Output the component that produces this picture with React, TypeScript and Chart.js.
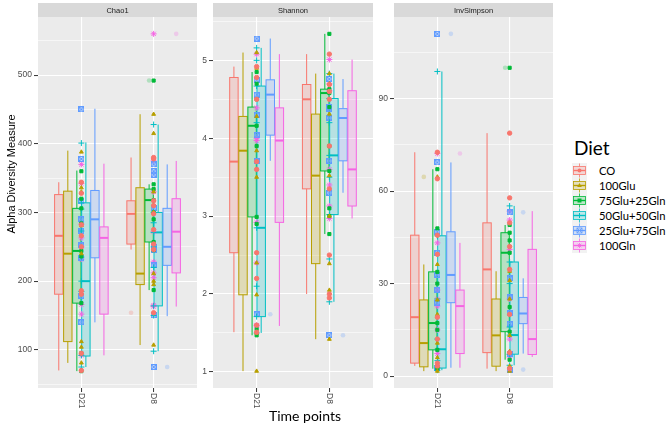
import React, { useEffect, useRef } from 'react';
import { Chart, registerables } from 'chart.js';
Chart.register(...registerables);

const DIETS = ['CO', '100Glu', '75Glu+25Gln', '50Glu+50Gln', '25Glu+75Gln', '100Gln'];
const COLORS = ['#F8766D', '#B79F00', '#00BA38', '#00BFC4', '#619CFF', '#F564E3'];
const TIMES = ['D21', 'D8'];

// box stats: [lower whisker, Q1, median, Q3, upper whisker], one row per diet
const CHAO1_D21_BOX = [
  [70, 181, 266, 326, 344],
  [81, 112, 240, 331, 390],
  [69, 168, 244, 306, 361],
  [75, 91, 200, 314, 402],
  [140, 234, 290, 332, 451],
  [92, 152, 263, 279, 371],
];
const CHAO1_D8_BOX = [
  [246, 254, 298, 317, 380],
  [107, 195, 211, 336, 443],
  [187, 257, 318, 334, 341],
  [98, 164, 271, 300, 428],
  [149, 223, 250, 306, 370],
  [163, 212, 272, 320, 375],
];
const CHAO1_D21_OUT = [[], [], [], [], [], []];
const CHAO1_D8_OUT = [[154], [], [492], [], [75], [560]];
const CHAO1_D21_PTS = [
  [344, 328, 282, 266, 250, 186, 181, 95, 70],
  [388, 336, 330, 281, 240, 186, 112, 104, 81],
  [360, 320, 306, 284, 244, 236, 168, 95, 69],
  [401, 314, 305, 273, 235, 200, 185, 92, 75],
  [450, 378, 316, 290, 273, 252, 234, 178, 140],
  [370, 342, 283, 263, 250, 232, 166, 152, 92],
];
const CHAO1_D8_PTS = [
  [380, 378, 317, 310, 298, 275, 254, 246, 154],
  [443, 415, 330, 300, 211, 200, 195, 107],
  [492, 341, 334, 318, 300, 290, 257, 245, 187],
  [428, 300, 285, 271, 250, 220, 164, 150, 98],
  [370, 360, 355, 306, 250, 245, 223, 150, 75],
  [560, 375, 330, 272, 228, 212, 205, 165, 163],
];
const CHAO1_MAJOR = [100, 200, 300, 400, 500];
const CHAO1_MINOR = [50, 150, 250, 350, 450, 550];

const SHANNON_D21_BOX = [
  [1.51, 2.53, 3.7, 4.78, 4.92],
  [1.01, 1.99, 3.84, 4.28, 5.1],
  [1.47, 2.99, 4.16, 4.4, 4.85],
  [1.5, 1.71, 2.85, 4.67, 5.16],
  [3.71, 4.04, 4.56, 4.75, 5.28],
  [1.59, 2.92, 3.97, 4.39, 5.08],
];
const SHANNON_D8_BOX = [
  [2.0, 3.35, 4.5, 4.69, 5.08],
  [1.42, 2.39, 3.52, 4.31, 4.83],
  [2.77, 3.58, 4.58, 4.63, 5.34],
  [1.9, 3.02, 3.78, 4.51, 4.83],
  [3.3, 3.71, 4.26, 4.38, 4.76],
  [2.97, 3.13, 3.6, 4.61, 5.01],
];
const SHANNON_D21_OUT = [[], [], [], [], [1.74], []];
const SHANNON_D8_OUT = [[], [], [], [], [1.47], []];
const SHANNON_D21_PTS = [
  [4.92, 4.78, 4.5, 3.7, 3.6, 2.53, 2.2, 1.6, 1.51],
  [5.1, 4.9, 4.28, 3.84, 3.5, 2.4, 1.99, 1.5, 1.01],
  [4.85, 4.7, 4.5, 4.16, 3.9, 2.99, 2.9, 1.55, 1.47],
  [5.16, 5.0, 4.67, 4.2, 2.85, 2.1, 1.71, 1.5],
  [5.28, 4.75, 4.56, 4.3, 4.04, 3.71, 1.74],
  [5.08, 4.39, 4.0, 3.97, 2.92, 2.4, 1.6, 1.59],
];
const SHANNON_D8_PTS = [
  [5.08, 4.69, 4.6, 4.5, 3.9, 3.35, 2.5, 2.0, 1.95],
  [4.83, 4.7, 4.31, 3.52, 3.0, 2.39, 2.05, 1.42],
  [5.34, 4.63, 4.58, 4.4, 3.9, 3.58, 3.1, 3.0, 2.77],
  [4.83, 4.51, 4.2, 3.78, 3.5, 3.02, 2.45, 1.9],
  [4.76, 4.4, 4.38, 4.26, 3.71, 3.3, 1.47],
  [5.01, 4.7, 4.61, 3.6, 3.4, 3.13, 2.97],
];
const SHANNON_MAJOR = [1, 2, 3, 4, 5];
const SHANNON_MINOR = [1.5, 2.5, 3.5, 4.5, 5.5];

const INVS_D21_BOX = [
  [3.3, 4.2, 19.1, 45.7, 72.6],
  [1.6, 3.0, 10.7, 24.7, 36.2],
  [2.4, 8.5, 17.2, 33.8, 67.1],
  [1.9, 2.6, 8.7, 45.5, 98.8],
  [2.7, 23.8, 32.8, 46.8, 69.3],
  [2.7, 7.3, 22.7, 27.9, 43.2],
];
const INVS_D8_BOX = [
  [2.4, 7.6, 34.6, 49.7, 78.8],
  [1.6, 3.2, 13.2, 25.0, 34.0],
  [5.3, 14.4, 40.0, 46.5, 49.0],
  [3.5, 7.1, 13.3, 37.0, 55.2],
  [7.3, 17.0, 20.3, 25.5, 31.7],
  [6.2, 7.0, 12.0, 41.1, 53.5],
];
const INVS_D21_OUT = [[], [64.6], [], [], [111], [72.2]];
const INVS_D8_OUT = [[], [], [100], [], [53.1, 2.1], []];
const INVS_D21_PTS = [
  [72.6, 64, 45.7, 39.5, 19.1, 12, 4.2, 3.3],
  [64.6, 36.2, 24.7, 20, 10.7, 6, 3.0, 1.6],
  [67.1, 47.9, 33.8, 30, 17.2, 15, 8.5, 2.4],
  [98.8, 45.5, 25, 12, 8.7, 5, 2.6, 1.9],
  [111, 69.3, 46.8, 40, 32.8, 28, 23.8, 2.7],
  [72.2, 43.2, 27.9, 25, 22.7, 15, 7.3, 2.7],
];
const INVS_D8_PTS = [
  [78.8, 57.8, 49.7, 42, 34.6, 20, 7.6, 2.4],
  [34.0, 31, 25.0, 13.2, 8, 3.2, 1.6],
  [100, 49, 46.5, 44, 40, 22.4, 14.4, 5.3],
  [55.2, 37, 30, 15.9, 13.3, 7.1, 3.5],
  [53.1, 31.7, 25.5, 20.3, 17, 7.3, 2.1],
  [53.5, 50.6, 41.1, 25, 12.0, 7.0, 6.2],
];
const INVS_MAJOR = [0, 30, 60, 90];
const INVS_MINOR = [15, 45, 75, 105];

const FONT = '"Liberation Sans", Arial, sans-serif';
const FONT2 = 'Lato, "Open Sans", sans-serif';

function rgba(hex: string, a: number) {
  const n = parseInt(hex.slice(1), 16);
  return `rgba(${(n >> 16) & 255},${(n >> 8) & 255},${n & 255},${a})`;
}

function makeBoxCross(color: string) {
  const c = document.createElement('canvas');
  c.width = 6;
  c.height = 6;
  const g = c.getContext('2d')!;
  g.strokeStyle = color;
  g.lineWidth = 1;
  g.fillStyle = rgba(color, 0.35);
  g.fillRect(0, 0, 6, 6);
  g.strokeRect(0.5, 0.5, 5, 5);
  g.beginPath();
  g.moveTo(0.5, 0.5);
  g.lineTo(5.5, 5.5);
  g.moveTo(5.5, 0.5);
  g.lineTo(0.5, 5.5);
  g.stroke();
  return c;
}

const FACETS = [
  {
    name: 'Chao1', left: 0, width: 202, axisW: 38, padRight: 1,
    boxes: [CHAO1_D21_BOX, CHAO1_D8_BOX], out: [CHAO1_D21_OUT, CHAO1_D8_OUT],
    pts: [CHAO1_D21_PTS, CHAO1_D8_PTS], major: CHAO1_MAJOR, minor: CHAO1_MINOR,
  },
  {
    name: 'Shannon', left: 200, width: 178, axisW: 13, padRight: 0,
    boxes: [SHANNON_D21_BOX, SHANNON_D8_BOX], out: [SHANNON_D21_OUT, SHANNON_D8_OUT],
    pts: [SHANNON_D21_PTS, SHANNON_D8_PTS], major: SHANNON_MAJOR, minor: SHANNON_MINOR,
  },
  {
    name: 'InvSimpson', left: 378, width: 180, axisW: 16, padRight: 0,
    boxes: [INVS_D21_BOX, INVS_D8_BOX], out: [INVS_D21_OUT, INVS_D8_OUT],
    pts: [INVS_D21_PTS, INVS_D8_PTS], major: INVS_MAJOR, minor: INVS_MINOR,
  },
];

const STEP = 0.125;
const HALF_W = 0.058;

function buildConfig(f: any) {
  const all: number[] = [];
  f.boxes.forEach((t: number[][]) => t.forEach((r) => all.push(...r)));
  f.out.forEach((t: number[][]) => t.forEach((r) => all.push(...r)));
  f.pts.forEach((t: number[][]) => t.forEach((r) => all.push(...r)));
  const lo = Math.min(...all);
  const hi = Math.max(...all);
  const pad = (hi - lo) * 0.05;
  const isMajor = (v: number) => f.major.some((m: number) => Math.abs(m - v) < 1e-9);

  const styles: any[] = ['circle', 'triangle', 'rect', 'cross', makeBoxCross(COLORS[4]), 'star'];
  const datasets = DIETS.map((d, di) => ({
    label: d,
    data: [
      ...f.pts[0][di].map((v: number) => ({ x: 0, y: v })),
      ...f.pts[1][di].map((v: number) => ({ x: 1, y: v })),
    ],
    pointStyle: styles[di],
    pointRadius: di === 3 || di === 5 ? 3 : 2.2,
    backgroundColor: COLORS[di],
    borderColor: COLORS[di],
    borderWidth: 1,
  }));

  const plugin = {
    id: 'facet',
    beforeDraw(chart: any) {
      const { ctx, chartArea: a } = chart;
      ctx.save();
      ctx.fillStyle = '#EBEBEB';
      ctx.fillRect(a.left, a.top, a.right - a.left, a.bottom - a.top);
      ctx.fillStyle = '#D9D9D9';
      ctx.fillRect(a.left, 3, a.right - a.left, a.top - 3);
      ctx.fillStyle = '#1A1A1A';
      ctx.font = `7.5px ${FONT}`;
      ctx.textAlign = 'center';
      ctx.textBaseline = 'middle';
      ctx.fillText(f.name, (a.left + a.right) / 2, (3 + a.top) / 2 + 0.5);
      ctx.restore();
    },
    beforeDatasetsDraw(chart: any) {
      const { ctx, scales } = chart;
      const x = scales.x;
      const y = scales.y;
      ctx.save();
      for (let ti = 0; ti < 2; ti++) {
        for (let di = 0; di < 6; di++) {
          const s = f.boxes[ti][di];
          const c = COLORS[di];
          const cx = ti + (di - 2.5) * STEP;
          const xl = x.getPixelForValue(cx - HALF_W);
          const xr = x.getPixelForValue(cx + HALF_W);
          const xc = x.getPixelForValue(cx);
          const [pl, p1, pm, p3, ph] = s.map((v: number) => y.getPixelForValue(v));
          ctx.strokeStyle = c;
          ctx.lineWidth = 1;
          ctx.beginPath();
          ctx.moveTo(xc, ph);
          ctx.lineTo(xc, p3);
          ctx.moveTo(xc, p1);
          ctx.lineTo(xc, pl);
          ctx.stroke();
          ctx.fillStyle = rgba(c, 0.22);
          ctx.fillRect(xl, p3, xr - xl, p1 - p3);
          ctx.strokeRect(xl, p3, xr - xl, p1 - p3);
          ctx.lineWidth = 2;
          ctx.beginPath();
          ctx.moveTo(xl, pm);
          ctx.lineTo(xr, pm);
          ctx.stroke();
          ctx.fillStyle = rgba(c, 0.25);
          f.out[ti][di].forEach((v: number) => {
            ctx.beginPath();
            ctx.arc(xc, y.getPixelForValue(v), 2.3, 0, Math.PI * 2);
            ctx.fill();
          });
        }
      }
      ctx.restore();
    },
    afterDraw(chart: any) {
      const { ctx, chartArea: a, scales } = chart;
      ctx.save();
      ctx.fillStyle = '#4D4D4D';
      ctx.font = `8.5px ${FONT}`;
      ctx.textAlign = 'left';
      ctx.textBaseline = 'middle';
      TIMES.forEach((t, i) => {
        const px = scales.x.getPixelForValue(i);
        ctx.save();
        ctx.translate(px, a.bottom + 5);
        ctx.rotate(Math.PI / 2);
        ctx.fillText(t, 0, 0);
        ctx.restore();
      });
      ctx.restore();
    },
  };

  return {
    type: 'scatter',
    data: { datasets },
    plugins: [plugin],
    options: {
      responsive: false,
      animation: false,
      events: [],
      layout: { padding: { top: 17, right: f.padRight, left: 0, bottom: 0 } },
      plugins: { legend: { display: false }, tooltip: { enabled: false } },
      scales: {
        x: {
          type: 'linear',
          min: -0.6,
          max: 1.6,
          afterBuildTicks: (s: any) => { s.ticks = [{ value: 0 }, { value: 1 }]; },
          afterFit: (s: any) => { s.height = 39; },
          ticks: { display: false },
          grid: { color: '#FFFFFF', lineWidth: 1.1, drawTicks: true, tickLength: 4, tickColor: '#333333', tickWidth: 1 },
          border: { display: false },
        },
        y: {
          type: 'linear',
          min: lo - pad,
          max: hi + pad,
          afterBuildTicks: (s: any) => {
            s.ticks = [...f.major, ...f.minor].sort((p, q) => p - q).map((v) => ({ value: v }));
          },
          afterFit: (s: any) => { s.width = f.axisW; },
          ticks: {
            autoSkip: false,
            padding: 2,
            color: '#4D4D4D',
            font: { family: FONT, size: 8.5 },
            callback: (v: number) => (isMajor(v) ? String(v) : ''),
          },
          grid: {
            color: '#FFFFFF',
            lineWidth: (ctx: any) => (ctx.tick && isMajor(ctx.tick.value) ? 1.1 : 0.55),
            tickColor: (ctx: any) => (ctx.tick && isMajor(ctx.tick.value) ? '#333333' : 'rgba(0,0,0,0)'),
            tickLength: 4,
            tickWidth: 1,
            drawTicks: true,
          },
          border: { display: false },
        },
      },
    },
  };
}

function Facet({ f }: { f: any }) {
  const ref = useRef<HTMLCanvasElement | null>(null);
  useEffect(() => {
    const chart = new Chart(ref.current as HTMLCanvasElement, buildConfig(f) as any);
    return () => chart.destroy();
  }, []);
  return (
    <canvas
      ref={ref}
      width={f.width}
      height={427}
      style={{ position: 'absolute', left: f.left, top: 0, width: f.width, height: 427 }}
    />
  );
}

function KeyShape({ i }: { i: number }) {
  const c = COLORS[i];
  const cx = 7.5;
  const cy = 7.5;
  if (i === 0) return <circle cx={cx} cy={cy} r={2} fill={c} />;
  if (i === 1) return <polygon points={`${cx},${cy - 2.4} ${cx + 2.3},${cy + 1.6} ${cx - 2.3},${cy + 1.6}`} fill={c} />;
  if (i === 2) return <rect x={cx - 2} y={cy - 2} width={4} height={4} fill={c} />;
  if (i === 3)
    return (
      <g stroke={c} strokeWidth={1}>
        <line x1={cx - 2.5} y1={cy} x2={cx + 2.5} y2={cy} />
        <line x1={cx} y1={cy - 2.5} x2={cx} y2={cy + 2.5} />
      </g>
    );
  if (i === 4)
    return (
      <g stroke={c} strokeWidth={0.8} fill="none">
        <rect x={cx - 2.5} y={cy - 2.5} width={5} height={5} />
        <line x1={cx - 2.5} y1={cy - 2.5} x2={cx + 2.5} y2={cy + 2.5} />
        <line x1={cx + 2.5} y1={cy - 2.5} x2={cx - 2.5} y2={cy + 2.5} />
      </g>
    );
  return (
    <g stroke={c} strokeWidth={0.8}>
      <line x1={cx - 2.5} y1={cy} x2={cx + 2.5} y2={cy} />
      <line x1={cx} y1={cy - 2.5} x2={cx} y2={cy + 2.5} />
      <line x1={cx - 1.8} y1={cy - 1.8} x2={cx + 1.8} y2={cy + 1.8} />
      <line x1={cx + 1.8} y1={cy - 1.8} x2={cx - 1.8} y2={cy + 1.8} />
    </g>
  );
}

function Key({ i }: { i: number }) {
  const c = COLORS[i];
  return (
    <svg width={15} height={15} style={{ display: 'block' }}>
      <rect x={0} y={0} width={15} height={15} fill="#F2F2F2" />
      <line x1={7.5} y1={0.5} x2={7.5} y2={3.5} stroke={c} strokeWidth={0.8} />
      <line x1={7.5} y1={11.5} x2={7.5} y2={14.5} stroke={c} strokeWidth={0.8} />
      <rect x={1.5} y={3.5} width={12} height={8} fill={rgba(c, 0.22)} stroke={c} strokeWidth={0.8} />
      <line x1={1.5} y1={7.5} x2={13.5} y2={7.5} stroke={c} strokeWidth={1.4} />
      <KeyShape i={i} />
    </svg>
  );
}

export default function App() {
  return (
    <div style={{ position: 'absolute', left: 0, top: 0, width: 668, height: 427, background: '#FFFFFF', overflow: 'hidden' }}>
      {FACETS.map((f) => (
        <Facet key={f.name} f={f} />
      ))}
      <div
        style={{
          position: 'absolute', left: 11 - 100, top: 174 - 7, width: 200, height: 14, lineHeight: '14px',
          textAlign: 'center', transform: 'rotate(-90deg)', fontFamily: FONT, fontSize: 11, color: '#000',
          whiteSpace: 'nowrap',
        }}
      >
        Alpha Diversity Measure
      </div>
      <div
        style={{
          position: 'absolute', left: 205, top: 409, width: 200, lineHeight: '14px', textAlign: 'center',
          fontFamily: FONT2, fontSize: 14, color: '#000', whiteSpace: 'nowrap',
        }}
      >
        Time points
      </div>
      <div
        style={{
          position: 'absolute', left: 574, top: 138, lineHeight: '19px', fontFamily: FONT2, fontSize: 19,
          color: '#000', whiteSpace: 'nowrap',
        }}
      >
        Diet
      </div>
      {DIETS.map((d, i) => (
        <div
          key={d}
          style={{
            position: 'absolute', left: 572, top: 163 + i * 15, height: 15, display: 'flex', alignItems: 'center',
            whiteSpace: 'nowrap',
          }}
        >
          <Key i={i} />
          <span style={{ marginLeft: 12, fontFamily: FONT2, fontSize: 11.2, color: '#000', lineHeight: '15px' }}>{d}</span>
        </div>
      ))}
    </div>
  );
}
